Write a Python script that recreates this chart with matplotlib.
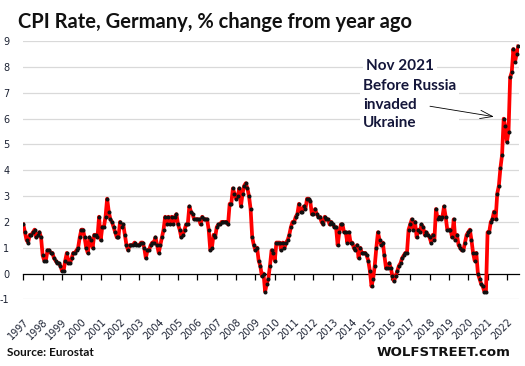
import numpy as np
import matplotlib
matplotlib.use("Agg")
import matplotlib.pyplot as plt

# ── data: German CPI (HICP), % change from year ago, monthly Jan 1997 – Aug 2022
cpi_by_year = {
    1997: [1.9, 1.6, 1.3, 1.2, 1.5, 1.5, 1.6, 1.7, 1.4, 1.5, 1.6, 1.4],
    1998: [0.7, 0.5, 0.5, 0.9, 0.9, 0.8, 0.8, 0.6, 0.5, 0.4, 0.4, 0.3],
    1999: [0.1, 0.1, 0.5, 0.8, 0.4, 0.4, 0.6, 0.8, 0.8, 0.9, 1.0, 1.4],
    2000: [1.7, 1.7, 1.4, 1.0, 0.8, 1.4, 1.3, 1.0, 1.5, 1.5, 1.4, 2.2],
    2001: [1.3, 1.8, 1.8, 2.2, 2.9, 2.4, 2.1, 2.0, 1.8, 1.6, 1.4, 1.4],
    2002: [2.0, 1.8, 1.9, 1.5, 1.1, 0.9, 1.1, 1.1, 1.1, 1.2, 1.1, 1.1],
    2003: [1.1, 1.2, 1.2, 1.0, 0.6, 0.9, 0.9, 1.1, 1.2, 1.2, 1.4, 1.1],
    2004: [0.8, 1.1, 1.4, 1.7, 2.2, 1.9, 2.2, 1.9, 2.2, 1.9, 2.2, 2.3],
    2005: [1.9, 1.7, 1.4, 1.5, 1.7, 1.9, 1.9, 2.6, 2.4, 2.3, 2.1, 2.1],
    2006: [2.1, 2.1, 1.9, 2.2, 2.1, 2.1, 2.1, 1.7, 0.9, 1.0, 1.5, 1.4],
    2007: [1.8, 1.9, 1.9, 2.0, 2.0, 2.0, 2.0, 1.9, 2.7, 2.7, 3.3, 3.1],
    2008: [2.9, 3.0, 3.3, 2.6, 3.1, 3.4, 3.5, 3.3, 3.0, 2.5, 1.4, 1.1],
    2009: [0.9, 1.0, 0.5, 0.3, -0.1, 0.0, -0.7, -0.4, -0.2, 0.3, 0.9, 0.8],
    2010: [0.5, 1.2, 1.2, 1.2, 0.9, 1.2, 1.0, 1.2, 1.3, 1.5, 1.8, 2.0],
    2011: [2.0, 2.2, 2.3, 2.7, 2.4, 2.4, 2.6, 2.5, 2.9, 2.9, 2.8, 2.3],
    2012: [2.3, 2.5, 2.3, 2.2, 2.2, 2.0, 1.9, 2.2, 2.1, 2.1, 1.9, 2.0],
    2013: [1.9, 1.8, 1.8, 1.1, 1.6, 1.9, 1.9, 1.6, 1.6, 1.2, 1.6, 1.2],
    2014: [1.2, 1.0, 0.9, 1.1, 0.6, 1.0, 0.8, 0.8, 0.8, 0.7, 0.5, 0.1],
    2015: [-0.5, -0.2, 0.3, 1.0, 1.6, 1.3, 1.1, 1.2, 0.7, 0.2, 0.2, 0.4],
    2016: [0.2, -0.1, -0.3, -0.1, 0.1, 0.3, 0.4, 0.6, 0.7, 0.8, 0.8, 1.7],
    2017: [1.9, 2.1, 1.7, 2.0, 1.4, 1.7, 1.6, 1.9, 1.8, 1.5, 1.6, 1.5],
    2018: [1.4, 1.2, 1.5, 1.3, 2.5, 2.1, 2.2, 2.1, 2.2, 2.6, 2.2, 1.7],
    2019: [1.7, 1.7, 1.4, 2.1, 1.3, 1.5, 1.1, 1.0, 0.9, 0.9, 1.2, 1.5],
    2020: [1.6, 1.7, 1.3, 0.8, 0.5, 0.8, 0.0, -0.2, -0.4, -0.5, -0.7, -0.7],
    2021: [1.6, 1.6, 2.0, 2.1, 2.4, 2.1, 3.1, 3.4, 4.1, 4.6, 6.0, 5.7],
    2022: [5.1, 5.5, 7.6, 7.8, 8.7, 8.2, 8.5, 8.8],
}

years = list(range(1997, 2023))
cpi = [v for y in years for v in cpi_by_year[y]]
t = 1997 + np.arange(len(cpi)) / 12.0

y_ticks = list(range(-1, 10))

# ── figure ─────────────────────────────────────────────────────────────────────
fig = plt.figure(figsize=(5.25, 3.66), dpi=100)
ax = fig.add_axes([0.0444, 0.1822, 0.944, 0.705])

ax.plot(t, cpi, color="#ff0000", linewidth=2.7, zorder=3, solid_joinstyle="round")
ax.plot(t, cpi, linestyle="none", marker="o", markersize=1.9,
        markerfacecolor="#111111", markeredgecolor="#111111", zorder=4)

ax.set_xlim(1997, 2022.62)
ax.set_ylim(-1, 9)

# horizontal grid, black zero line
for yv in y_ticks:
    if yv != 0:
        ax.axhline(yv, color="#d9d9d9", linewidth=0.9, zorder=1)

for side in ["top", "right", "left"]:
    ax.spines[side].set_visible(False)
ax.spines["bottom"].set_position(("data", 0))
ax.spines["bottom"].set_color("black")
ax.spines["bottom"].set_linewidth(0.9)
ax.spines["bottom"].set_zorder(2)

ax.set_yticks(y_ticks)
ax.set_yticklabels([str(v) for v in y_ticks])
ax.tick_params(axis="y", length=0, pad=10, labelsize=7, labelcolor="#1c2233")

ax.set_xticks(years)
ax.set_xticklabels([str(y) for y in years], rotation=45, ha="right",
                   rotation_mode="anchor")
ax.tick_params(axis="x", direction="out", length=4, width=0.9, pad=27,
               labelsize=7, labelcolor="#1c2233")

# ── texts ──────────────────────────────────────────────────────────────────────
fig.text(0.034, 0.94, "CPI Rate, Germany, % change from year ago",
         fontsize=14.5, fontweight="bold", family=["Lato", "DejaVu Sans"],
         ha="left", va="center", color="#111111")

ann_color = "#14163a"
ax.text(2014.72, 8.05, "Nov 2021", fontsize=11, fontweight="bold",
        family=["Lato", "DejaVu Sans"], color=ann_color, ha="left", va="center",
        zorder=5, bbox=dict(facecolor="white", edgecolor="none", pad=2))
ax.text(2014.56, 6.55, "Before Russia\ninvaded\nUkraine", fontsize=11,
        fontweight="bold", family=["Lato", "DejaVu Sans"], color=ann_color,
        ha="left", va="center", linespacing=1.45, zorder=5,
        bbox=dict(facecolor="white", edgecolor="none", pad=2))
ax.annotate("", xy=(2021.47, 6.06), xytext=(2017.88, 6.5),
            arrowprops=dict(arrowstyle="->,head_length=0.9,head_width=0.3",
                            color="black", linewidth=0.6), zorder=6)

fig.text(0.013, 0.036, "Source: Eurostat", fontsize=8.5, fontweight="bold",
         family=["Lato", "DejaVu Sans"], ha="left", va="center", color="#111111")
fig.text(0.972, 0.036, "WOLFSTREET.com", fontsize=9.5, fontweight="bold",
         family=["DejaVu Sans"], ha="right", va="center", color="#111111")

fig.savefig("out.png", dpi=100)
